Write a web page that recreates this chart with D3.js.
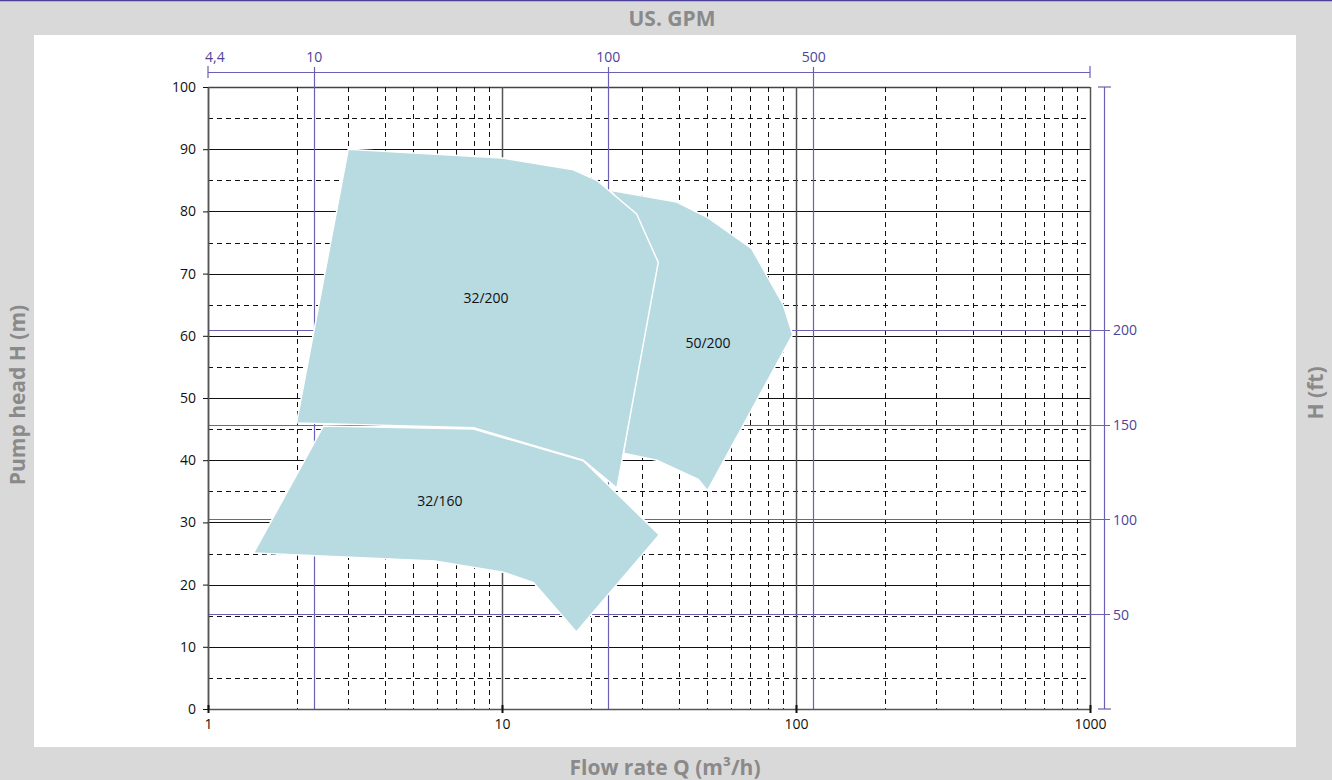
<!DOCTYPE html>
<html>
<head>
<meta charset="utf-8">
<script src="https://cdn.jsdelivr.net/npm/d3@7"></script>
<style>
  html, body { margin: 0; padding: 0; background: #d9d9d9; }
  svg { display: block; }
  text { font-family: "Open Sans", "Noto Sans", sans-serif; }
</style>
</head>
<body>
<svg id="chart" width="1332" height="780"></svg>
<script>
// Flow (m3/h) and head (m) ticks
const flowTicks = [1, 10, 100, 1000];
const headTicks = [0, 10, 20, 30, 40, 50, 60, 70, 80, 90, 100];
// Secondary units
const gpmTicks = [4.4, 10, 100, 500];
const gpmLabels = ["4,4", "10", "100", "500"];
const ftTicks = [50, 100, 150, 200];

// Operating ranges: [flow m3/h, head m]
const range32_160 = [[2.47, 45.5], [8, 45], [18.9, 39.9], [34.3, 28], [17.9, 12.4],
  [12.8, 20.3], [10.1, 22], [5.9, 23.8], [1.43, 25.1]];
const range50_200 = [[23.3, 83.4], [39.3, 81.5], [49.7, 79.1], [70.7, 74], [90.5, 65],
  [97.4, 60.2], [50, 35.1], [46.5, 36.9], [33.6, 40], [25.9, 41.1], [30, 60], [31, 72], [27, 80]];
const range32_200 = [[3.0, 90], [10, 88.6], [17.5, 86.7], [21, 85], [28.7, 79.6],
  [34, 71.8], [24.6, 35.5], [18.9, 40], [8, 45.2], [2, 46]];
const rangeNames = ["50/200", "32/160", "32/200"];
const labelPos = [[50.2, 59], [6.15, 33.6], [8.82, 66.2]];

const svg = d3.select("#chart");
const W = 1332, H = 780;
const purple = "#6b61b3", purpleText = "#4d4499", titleGray = "#8a8a8a";

// frame
svg.append("rect").attr("width", W).attr("height", H).attr("fill", "#d9d9d9");
svg.append("line").attr("x1", 0).attr("x2", W).attr("y1", 0.5).attr("y2", 0.5)
  .attr("stroke", "#4b3f9a").attr("stroke-width", 1.5);
svg.append("rect").attr("x", 34).attr("y", 35).attr("width", 1262).attr("height", 712).attr("fill", "#fff");

const x = d3.scaleLog().domain([1, 1000]).range([208, 1090]);
const y = d3.scaleLinear().domain([0, 100]).range([709, 87]);
const xg = d3.scaleLog().domain([4.4, 4400]).range([208, 1090]);
const yft = d3.scaleLinear().domain([0, 100 / 0.3048]).range([709, 87]);

const grid = svg.append("g");
// horizontal grid: solid every 10 m, dashed at the 5s
d3.range(5, 100, 10).forEach(v => {
  grid.append("line").attr("x1", x(1)).attr("x2", x(1000)).attr("y1", Math.round(y(v)) + 0.5).attr("y2", Math.round(y(v)) + 0.5)
    .attr("stroke", "#111").attr("stroke-width", 1).attr("stroke-dasharray", "5,4");
});
headTicks.slice(1).forEach(v => {
  grid.append("line").attr("x1", x(1)).attr("x2", x(1000)).attr("y1", Math.round(y(v)) + 0.5).attr("y2", Math.round(y(v)) + 0.5)
    .attr("stroke", v === 100 ? "#444" : "#111").attr("stroke-width", v === 100 ? 1.5 : 1);
});
// vertical grid: dashed at 2..9 of each decade, solid on decades
[1, 10, 100].forEach(d => {
  d3.range(2, 10).forEach(m => {
    const xv = Math.round(x(d * m)) + 0.5;
    grid.append("line").attr("x1", xv).attr("x2", xv).attr("y1", y(100)).attr("y2", y(0))
      .attr("stroke", "#111").attr("stroke-width", 1).attr("stroke-dasharray", "5,4");
  });
});
flowTicks.forEach(v => {
  const xv = Math.round(x(v)) + 0.5;
  grid.append("line").attr("x1", xv).attr("x2", xv).attr("y1", y(100)).attr("y2", y(0))
    .attr("stroke", "#555").attr("stroke-width", 1.5);
});

// secondary-unit reference lines
gpmTicks.slice(1).forEach(v => {
  const xv = Math.round(xg(v)) + 1.5;
  svg.append("line").attr("x1", xv).attr("x2", xv).attr("y1", 67).attr("y2", y(0))
    .attr("stroke", purple).attr("stroke-width", 1.2);
});
ftTicks.forEach(v => {
  const yv = Math.round(yft(v)) + 0.5;
  svg.append("line").attr("x1", x(1)).attr("x2", 1110).attr("y1", yv).attr("y2", yv)
    .attr("stroke", purple).attr("stroke-width", 1.2);
});

// operating ranges
const line = d3.line().x(d => x(d[0])).y(d => y(d[1]));
const ranges = [range50_200, range32_160, range32_200];
ranges.forEach(r => {
  svg.append("path").attr("d", line(r) + "Z")
    .attr("fill", "#b8dae1").attr("stroke", "#fff").attr("stroke-width", 1.5).attr("stroke-linejoin", "miter");
});
rangeNames.forEach((n, i) => {
  svg.append("text").attr("x", x(labelPos[i][0])).attr("y", y(labelPos[i][1]))
    .attr("text-anchor", "middle").attr("dominant-baseline", "central")
    .attr("font-size", 14).attr("fill", "#111").text(n);
});

// main axes
const yAxis = d3.axisLeft(y).tickValues(headTicks).tickSize(5).tickSizeOuter(0);
const gy = svg.append("g").attr("transform", `translate(${x(1)},0)`).call(yAxis);
gy.select(".domain").attr("stroke", "#555").attr("stroke-width", 1.5);
gy.selectAll(".tick line").attr("stroke", "#111");
gy.selectAll(".tick text").attr("font-size", 14).attr("fill", "#111").attr("x", -12);

const xAxis = d3.axisBottom(x).tickValues(flowTicks).tickFormat(d3.format("d")).tickSize(4).tickSizeOuter(0);
const gx = svg.append("g").attr("transform", `translate(0,${y(0)})`).call(xAxis);
gx.select(".domain").attr("stroke", "#555").attr("stroke-width", 1.5);
gx.selectAll(".tick line").attr("stroke", "#111").attr("stroke-width", 2).attr("y1", -4);
gx.selectAll(".tick text").attr("font-size", 14).attr("fill", "#111").attr("dy", "0.9em");

// top GPM axis
const gTop = svg.append("g");
gTop.append("line").attr("x1", xg(4.4)).attr("x2", x(1000)).attr("y1", 72.5).attr("y2", 72.5)
  .attr("stroke", purple).attr("stroke-width", 1.2);
[xg(4.4), x(1000)].forEach(xv => {
  gTop.append("line").attr("x1", xv).attr("x2", xv).attr("y1", 66).attr("y2", 78)
    .attr("stroke", purple).attr("stroke-width", 1.2);
});
gpmTicks.forEach((v, i) => {
  gTop.append("text").attr("x", i === 0 ? xg(v) - 3 : xg(v) + 1.5).attr("y", 62)
    .attr("text-anchor", i === 0 ? "start" : "middle")
    .attr("font-size", 14).attr("fill", purpleText).text(gpmLabels[i]);
});

// right ft axis
const gR = svg.append("g");
gR.append("line").attr("x1", 1104.5).attr("x2", 1104.5).attr("y1", y(100)).attr("y2", y(0))
  .attr("stroke", purple).attr("stroke-width", 1.2);
[y(100), y(0)].forEach(yv => {
  gR.append("line").attr("x1", 1098).attr("x2", 1111).attr("y1", yv).attr("y2", yv)
    .attr("stroke", purple).attr("stroke-width", 1.2);
});
ftTicks.forEach(v => {
  gR.append("text").attr("x", 1113).attr("y", yft(v)).attr("dominant-baseline", "central")
    .attr("font-size", 14).attr("fill", purpleText).text(v);
});

// titles
svg.append("text").attr("x", 672).attr("y", 25.5).attr("text-anchor", "middle")
  .attr("font-size", 21).attr("font-weight", "bold").attr("fill", titleGray).text("US. GPM");
svg.append("text").attr("x", 665).attr("y", 775).attr("text-anchor", "middle")
  .attr("font-size", 21).attr("font-weight", "bold").attr("fill", titleGray).text("Flow rate Q (m³/h)");
svg.append("text").attr("transform", "translate(25,395) rotate(-90)").attr("text-anchor", "middle")
  .attr("font-size", 21).attr("font-weight", "bold").attr("fill", titleGray).text("Pump head H (m)");
svg.append("text").attr("transform", "translate(1323,393) rotate(-90)").attr("text-anchor", "middle")
  .attr("font-size", 21).attr("font-weight", "bold").attr("fill", titleGray).text("H (ft)");
</script>
</body>
</html>
